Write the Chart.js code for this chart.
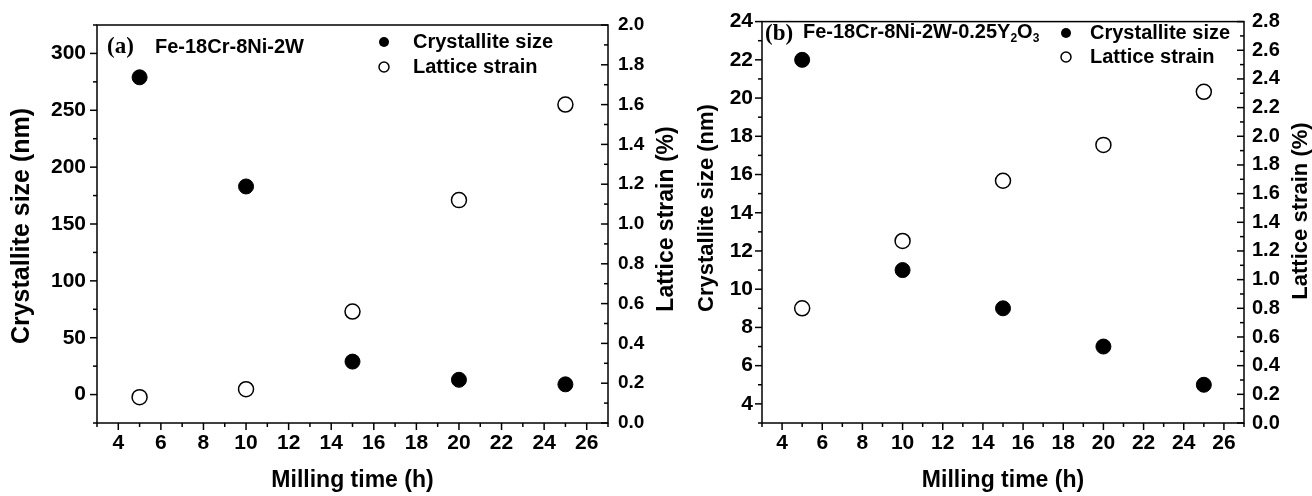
<!DOCTYPE html>
<html>
<head>
<meta charset="utf-8">
<script src="https://cdn.jsdelivr.net/npm/chart.js@4.4.0/dist/chart.umd.min.js"></script>
<style>
  html, body { margin: 0; padding: 0; background: #fff; }
  #wrap { position: relative; width: 1312px; height: 496px; overflow: hidden; }
  canvas { position: absolute; top: 0; }
  #chartA { left: 0; }
  #chartB { left: 686px; }
</style>
</head>
<body>
<div id="wrap">
  <canvas id="chartA" width="686" height="496"></canvas>
  <canvas id="chartB" width="626" height="496"></canvas>
</div>
<script>
// Milling time (h)
const millingTime = [5, 10, 15, 20, 25];

// (a) Fe-18Cr-8Ni-2W
const sizeA = [279, 183, 29, 13, 9];
const strainA = [0.13, 0.17, 0.56, 1.12, 1.60];

// (b) Fe-18Cr-8Ni-2W-0.25Y2O3
const sizeB = [22, 11, 9, 7, 5];
const strainB = [0.80, 1.27, 1.69, 1.94, 2.31];

// tick labels
const timeTicks = [4, 6, 8, 10, 12, 14, 16, 18, 20, 22, 24, 26];
const sizeTicksA = [0, 50, 100, 150, 200, 250, 300];
const strainTicksA = [0.0, 0.2, 0.4, 0.6, 0.8, 1.0, 1.2, 1.4, 1.6, 1.8, 2.0];
const sizeTicksB = [4, 6, 8, 10, 12, 14, 16, 18, 20, 22, 24];
const strainTicksB = [0.0, 0.2, 0.4, 0.6, 0.8, 1.0, 1.2, 1.4, 1.6, 1.8, 2.0, 2.2, 2.4, 2.6, 2.8];

const SANS = "'Liberation Sans', Arial, Helvetica, sans-serif";
const SERIF = "'Liberation Serif', 'Times New Roman', serif";

// frame, major/minor ticks, y titles, panel label and legend
const panelDecor = {
  id: 'panelDecor',
  afterDraw(chart, args, o) {
    const { ctx, chartArea: a, scales } = chart;
    ctx.save();
    ctx.strokeStyle = '#000';
    ctx.fillStyle = '#000';
    ctx.lineWidth = 1.5;
    ctx.strokeRect(a.left, a.top, a.right - a.left, a.bottom - a.top);

    // ticks
    const tickSet = (id, step, majors, dir) => {
      const s = scales[id];
      const first = Math.ceil(s.min / step - 1e-6);
      const last = Math.floor(s.max / step + 1e-6);
      for (let k = first; k <= last; k++) {
        const v = k * step;
        const isMajor = majors.some(m => Math.abs(m - v) < step / 10);
        const len = isMajor ? o.majorLen : o.minorLen;
        const p = s.getPixelForValue(v);
        ctx.beginPath();
        if (dir === 'down') { ctx.moveTo(p, a.bottom); ctx.lineTo(p, a.bottom + len); }
        if (dir === 'left') { ctx.moveTo(a.left, p); ctx.lineTo(a.left - len, p); }
        if (dir === 'inRight') { ctx.moveTo(a.right, p); ctx.lineTo(a.right - len, p); }
        ctx.stroke();
      }
    };
    tickSet('x', 1, timeTicks, 'down');
    tickSet('y', o.sizeMinor, o.sizeTicks, 'left');
    tickSet('y1', o.strainMinor, o.strainTicks, 'inRight');

    // vertical axis titles (both read bottom-to-top)
    const vTitle = (t) => {
      ctx.save();
      ctx.translate(t.x, t.y);
      ctx.rotate(-Math.PI / 2);
      ctx.font = 'bold ' + t.size + 'px ' + SANS;
      ctx.textAlign = 'center';
      ctx.textBaseline = 'middle';
      ctx.fillText(t.text, 0, 0);
      ctx.restore();
    };
    vTitle(o.leftTitle);
    vTitle(o.rightTitle);

    // panel label + alloy name
    ctx.textBaseline = 'middle';
    ctx.textAlign = 'left';
    ctx.font = 'bold ' + o.tag.size + 'px ' + SERIF;
    ctx.fillText(o.tag.text, o.tag.x, o.tag.y);
    let x = o.alloy.x;
    o.alloy.parts.forEach(part => {
      const sz = part.sub ? Math.round(o.alloy.size * 0.6) : o.alloy.size;
      ctx.font = 'bold ' + sz + 'px ' + SANS;
      ctx.fillText(part.t, x, o.alloy.y + (part.sub ? o.alloy.size * 0.35 : 0));
      x += ctx.measureText(part.t).width;
    });

    // legend
    ctx.font = 'bold ' + o.legend.size + 'px ' + SANS;
    o.legend.rows.forEach(row => {
      ctx.beginPath();
      ctx.arc(o.legend.markerX, row.y, o.legend.r, 0, Math.PI * 2);
      if (row.filled) { ctx.fill(); } else { ctx.fillStyle = '#fff'; ctx.fill(); ctx.stroke(); ctx.fillStyle = '#000'; }
      ctx.fillText(row.text, o.legend.textX, row.y);
    });
    ctx.restore();
  }
};

function pts(ys) {
  return millingTime.map((t, i) => ({ x: t, y: ys[i] }));
}

function buildPanel(id, p) {
  const tickFont = (size) => ({ family: SANS, weight: 'bold', size: size });
  return new Chart(document.getElementById(id), {
    type: 'scatter',
    data: {
      datasets: [
        {
          label: 'Crystallite size',
          data: pts(p.size),
          yAxisID: 'y',
          pointRadius: 7.5,
          pointBackgroundColor: '#000',
          pointBorderColor: '#000',
          pointBorderWidth: 1
        },
        {
          label: 'Lattice strain',
          data: pts(p.strain),
          yAxisID: 'y1',
          pointRadius: 7.5,
          pointBackgroundColor: '#fff',
          pointBorderColor: '#000',
          pointBorderWidth: 1.5
        }
      ]
    },
    options: {
      responsive: false,
      animation: false,
      layout: { padding: { top: p.top, left: 0, right: 0, bottom: 0 } },
      plugins: {
        legend: { display: false },
        tooltip: { enabled: false },
        panelDecor: p.decor
      },
      scales: {
        x: {
          type: 'linear',
          min: 3,
          max: 27,
          afterBuildTicks: (s) => { s.ticks = timeTicks.map(v => ({ value: v })); },
          afterFit: (s) => { s.height = 73; },
          grid: { display: false, drawTicks: false },
          border: { display: false },
          ticks: { padding: 8, color: '#000', font: tickFont(21) },
          title: {
            display: true,
            text: 'Milling time (h)',
            color: '#000',
            font: { family: SANS, weight: 'bold', size: 23 },
            padding: { top: 0, bottom: 2 }
          }
        },
        y: {
          type: 'linear',
          position: 'left',
          min: p.sizeRange[0],
          max: p.sizeRange[1],
          afterBuildTicks: (s) => { s.ticks = p.sizeTicks.map(v => ({ value: v })); },
          afterFit: (s) => { s.width = p.leftWidth; },
          grid: { display: false, drawTicks: false },
          border: { display: false },
          ticks: { padding: p.leftPad, color: '#000', font: tickFont(21), callback: (v) => String(v) }
        },
        y1: {
          type: 'linear',
          position: 'right',
          min: p.strainRange[0],
          max: p.strainRange[1],
          afterBuildTicks: (s) => { s.ticks = p.strainTicks.map(v => ({ value: v })); },
          afterFit: (s) => { s.width = p.rightWidth; },
          grid: { display: false, drawTicks: false },
          border: { display: false },
          ticks: { padding: p.rightPad, color: '#000', font: tickFont(p.rightTickSize), callback: (v) => v.toFixed(1) }
        }
      }
    },
    plugins: [panelDecor]
  });
}

buildPanel('chartA', {
  size: sizeA,
  strain: strainA,
  sizeRange: [-25, 325],
  sizeTicks: sizeTicksA,
  strainRange: [0, 2.0],
  strainTicks: strainTicksA,
  top: 25,
  leftWidth: 97,
  rightWidth: 78,
  leftPad: 11,
  rightPad: 10,
  rightTickSize: 19,
  decor: {
    majorLen: 7,
    minorLen: 4,
    sizeMinor: 25,
    strainMinor: 0.1,
    sizeTicks: sizeTicksA,
    strainTicks: strainTicksA,
    leftTitle: { text: 'Crystallite size (nm)', x: 22, y: 226, size: 25 },
    rightTitle: { text: 'Lattice strain (%)', x: 667, y: 219, size: 23 },
    tag: { text: '(a)', x: 107, y: 47, size: 23 },
    alloy: { x: 155, y: 47, size: 20, parts: [{ t: 'Fe-18Cr-8Ni-2W' }] },
    legend: {
      size: 20, markerX: 384, textX: 413, r: 5,
      rows: [
        { text: 'Crystallite size', y: 42, filled: true },
        { text: 'Lattice strain', y: 67, filled: false }
      ]
    }
  }
});

buildPanel('chartB', {
  size: sizeB,
  strain: strainB,
  sizeRange: [3, 24],
  sizeTicks: sizeTicksB,
  strainRange: [0, 2.8],
  strainTicks: strainTicksB,
  top: 17,
  leftWidth: 76,
  rightWidth: 68,
  leftPad: 9,
  rightPad: 8,
  rightTickSize: 20,
  decor: {
    majorLen: 7,
    minorLen: 4,
    sizeMinor: 1,
    strainMinor: 0.1,
    sizeTicks: sizeTicksB,
    strainTicks: strainTicksB,
    leftTitle: { text: 'Crystallite size (nm)', x: 21, y: 208, size: 22 },
    rightTitle: { text: 'Lattice strain (%)', x: 615, y: 211, size: 22 },
    tag: { text: '(b)', x: 79, y: 34, size: 23 },
    alloy: {
      x: 117, y: 32, size: 20,
      parts: [{ t: 'Fe-18Cr-8Ni-2W-0.25Y' }, { t: '2', sub: true }, { t: 'O' }, { t: '3', sub: true }]
    },
    legend: {
      size: 20, markerX: 380, textX: 404, r: 5,
      rows: [
        { text: 'Crystallite size', y: 33, filled: true },
        { text: 'Lattice strain', y: 57, filled: false }
      ]
    }
  }
});
</script>
</body>
</html>
